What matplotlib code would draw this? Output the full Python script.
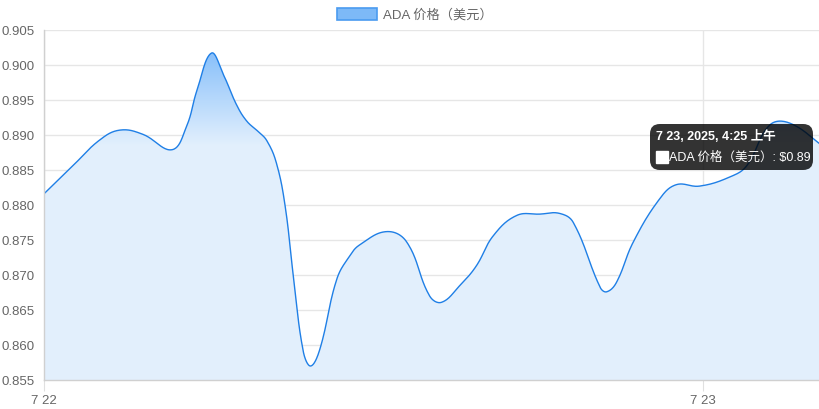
import numpy as np
import pandas as pd
import matplotlib
matplotlib.use('Agg')
import matplotlib.pyplot as plt
import matplotlib.dates as mdates
from matplotlib.patches import Polygon, FancyBboxPatch, Rectangle

plt.rcParams['font.family'] = ['Liberation Sans', 'Noto Sans CJK SC', 'DejaVu Sans']

# ---- data ----
times = [
    '2025-07-22 00:00', '2025-07-22 01:03', '2025-07-22 02:02', '2025-07-22 02:46',
    '2025-07-22 03:36', '2025-07-22 04:40', '2025-07-22 05:12', '2025-07-22 05:34',
    '2025-07-22 06:06', '2025-07-22 06:33', '2025-07-22 07:01', '2025-07-22 07:23',
    '2025-07-22 07:48', '2025-07-22 08:07', '2025-07-22 08:28', '2025-07-22 08:47',
    '2025-07-22 09:05', '2025-07-22 09:27', '2025-07-22 09:43', '2025-07-22 10:03',
    '2025-07-22 10:40', '2025-07-22 11:09', '2025-07-22 11:30', '2025-07-22 12:29',
    '2025-07-22 13:13', '2025-07-22 14:03', '2025-07-22 14:29',
    '2025-07-22 15:09', '2025-07-22 15:45', '2025-07-22 16:22', '2025-07-22 17:13',
    '2025-07-22 18:04', '2025-07-22 18:47', '2025-07-22 19:17', '2025-07-22 20:16',
    '2025-07-22 20:30', '2025-07-22 20:51', '2025-07-22 21:28', '2025-07-22 22:26',
    '2025-07-22 23:02', '2025-07-22 23:53', '2025-07-23 00:59', '2025-07-23 01:36',
    '2025-07-23 02:26', '2025-07-23 03:10', '2025-07-23 04:25',
]
prices = [
    0.8816, 0.8856, 0.8893, 0.8907,
    0.8901, 0.8879, 0.8913, 0.8963,
    0.9017, 0.8985, 0.8943, 0.8920,
    0.8905, 0.8892, 0.8860, 0.8799,
    0.8699, 0.8590, 0.8570, 0.8594,
    0.8694, 0.8728, 0.8743, 0.8762,
    0.8747, 0.8670, 0.8661,
    0.8685, 0.8713, 0.8756, 0.8785,
    0.8787, 0.8788, 0.8775, 0.8682,
    0.8676, 0.8689, 0.8747, 0.8809,
    0.8829, 0.8827, 0.8840, 0.8856,
    0.8914, 0.8917, 0.8883,
]
y_ticks = [0.855, 0.860, 0.865, 0.870, 0.875, 0.880, 0.885, 0.890, 0.895, 0.900, 0.905]
x_tick_times = ['2025-07-22 00:00', '2025-07-23 00:00']
x_tick_labels = ['7 22', '7 23']
series_label = 'ADA 价格（美元）'
tooltip_title = '7 23, 2025, 4:25 上午'
tooltip_body = 'ADA 价格（美元）: $0.89'

W, H = 820, 410
AX_L, AX_R, AX_T, AX_B = 44, 824, 31, 381

tx = mdates.date2num(pd.to_datetime(times))
ymin, ymax = y_ticks[0], y_ticks[-1]
xmin, xmax = tx[0], tx[-1]


def spline_curve(x, y, tension=0.4, n_per=24):
    """Chart.js-style cardinal bezier through the points (computed in pixel space)."""
    x = np.asarray(x, float); y = np.asarray(y, float)
    sx = (AX_R - AX_L) / (xmax - xmin)
    sy = (AX_B - AX_T) / (ymax - ymin)
    px, py = x * sx, y * sy
    n = len(px)
    cp_prev = np.zeros((n, 2)); cp_next = np.zeros((n, 2))
    for i in range(n):
        p = np.array([px[i], py[i]])
        pr = np.array([px[max(i - 1, 0)], py[max(i - 1, 0)]])
        nx = np.array([px[min(i + 1, n - 1)], py[min(i + 1, n - 1)]])
        d01 = np.hypot(*(p - pr)); d12 = np.hypot(*(nx - p))
        s01 = d01 / (d01 + d12) if d01 + d12 > 0 else 0
        s12 = d12 / (d01 + d12) if d01 + d12 > 0 else 0
        fa = tension * s01; fb = tension * s12
        cp_prev[i] = p - fa * (nx - pr)
        cp_next[i] = p + fb * (nx - pr)
    xs, ys = [], []
    t = np.linspace(0, 1, n_per, endpoint=False)[:, None]
    for i in range(n - 1):
        p0 = np.array([px[i], py[i]]); p3 = np.array([px[i + 1], py[i + 1]])
        p1 = cp_next[i]; p2 = cp_prev[i + 1]
        b = (1 - t)**3 * p0 + 3 * (1 - t)**2 * t * p1 + 3 * (1 - t) * t**2 * p2 + t**3 * p3
        xs.append(b[:, 0]); ys.append(b[:, 1])
    xs.append([px[-1]]); ys.append([py[-1]])
    return np.concatenate(xs) / sx, np.concatenate(ys) / sy


cx, cy = spline_curve(tx, prices)
cx = np.clip(cx, xmin, xmax)

fig = plt.figure(figsize=(W / 100, H / 100), dpi=100)
ax = fig.add_axes([AX_L / W, (H - AX_B) / H, (AX_R - AX_L) / W, (AX_B - AX_T) / H])
ax.set_xlim(xmin, xmax)
ax.set_ylim(ymin, ymax)

# gradient fill
ny = 400
yv = np.linspace(ymin, ymax, ny)
light = np.array([0.890, 0.941, 0.992])
dark = np.array([0.53, 0.75, 0.98])
t = np.clip((yv - 0.8885) / (0.9020 - 0.8885), 0, 1)
cols = light[None, :] + t[:, None] * (dark - light)[None, :]
img = np.concatenate([cols, np.ones((ny, 1))], axis=1).reshape(ny, 1, 4)
im = ax.imshow(img, extent=[xmin, xmax, ymin, ymax], origin='lower',
               aspect='auto', zorder=1, interpolation='bilinear')
verts = np.column_stack([np.r_[cx, cx[-1], cx[0]], np.r_[cy, ymin, ymin]])
poly = Polygon(verts, closed=True, facecolor='none', edgecolor='none', transform=ax.transData)
ax.add_patch(poly)
im.set_clip_path(poly)

ax.plot(cx, cy, color='#1f7fe6', lw=1.0, zorder=3, solid_joinstyle='round')

# grid & axes
ax.set_yticks(y_ticks)
ax.set_yticklabels([f'{v:.3f}' for v in y_ticks])
xt = mdates.date2num(pd.to_datetime(x_tick_times))
ax.set_xticks(xt)
ax.set_xticklabels(x_tick_labels)
ax.grid(axis='both', color='#e6e6e6', lw=1.0, zorder=0)
ax.set_axisbelow(True)
for s in ['top', 'right']:
    ax.spines[s].set_visible(False)
for s in ['left', 'bottom']:
    ax.spines[s].set_color('#d0d0d0')
    ax.spines[s].set_linewidth(1.0)
    ax.spines[s].set_zorder(4)
ax.tick_params(axis='y', length=0, pad=7, labelsize=9.5, labelcolor='#666666')
ax.tick_params(axis='x', length=8, color='#e0e0e0', pad=2, labelsize=9.5, labelcolor='#666666')

# legend (drawn manually like Chart.js)
fig.patches.append(Rectangle((337 / W, (H - 21) / H), 40 / W, 12 / H, transform=fig.transFigure,
                             facecolor='#7db9f7', edgecolor='#4a9bf0', lw=1.2))
fig.text(383 / W, (H - 15) / H, series_label, fontsize=9.5, color='#666666', va='center', ha='left')

# tooltip
box = FancyBboxPatch((650 / W, (H - 171) / H), 163 / W, 46 / H,
                     boxstyle='round,pad=0,rounding_size=0.012', transform=fig.transFigure,
                     facecolor=(0, 0, 0, 0.8), edgecolor='none', zorder=10,
                     mutation_aspect=W / H)
fig.patches.append(box)
fig.text(656 / W, (H - 137) / H, tooltip_title, fontsize=9, fontweight='bold', color='white',
         va='center', ha='left', zorder=11)
fig.patches.append(Rectangle((656 / W, (H - 164) / H), 12 / W, 12 / H, transform=fig.transFigure,
                             facecolor='white', edgecolor='white', lw=1, zorder=11))
fig.text(669 / W, (H - 158) / H, tooltip_body, fontsize=9, color='white',
         va='center', ha='left', zorder=11)

fig.savefig('out.png', dpi=100)
